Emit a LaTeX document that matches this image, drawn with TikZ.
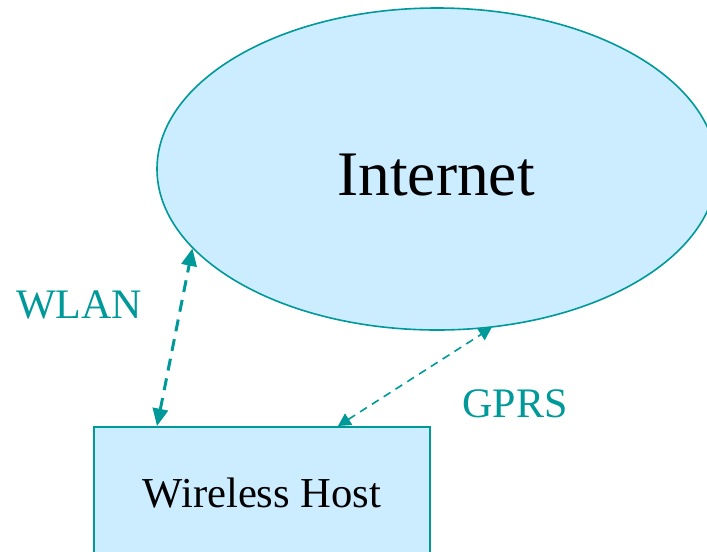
\documentclass[tikz,border=0pt]{standalone}
\usepackage{fontspec}
\setmainfont{Liberation Serif}
\usetikzlibrary{arrows.meta,calc,shapes.geometric}
\definecolor{linkteal}{RGB}{0,153,153}
\definecolor{skyfill}{RGB}{204,236,255}
\tikzset{
  cloud shape/.style={ellipse, draw=linkteal, fill=skyfill, line width=1.2pt, inner sep=0pt},
  box shape/.style={rectangle, draw=linkteal, fill=skyfill, line width=1.5pt, inner sep=0pt, anchor=north west},
  link label/.style={text=linkteal, font=\fontsize{31.5pt}{38pt}\selectfont, anchor=base, inner sep=0pt},
  wlan link/.style={linkteal, line width=2.25pt, dash pattern=on 9pt off 6pt,
    {Triangle[length=13pt,width=11.5pt]}-{Triangle[length=13pt,width=11.5pt]}},
  gprs link/.style={linkteal, line width=1.2pt, dash pattern=on 6pt off 4.5pt,
    {Triangle[length=9.5pt,width=10pt]}-{Triangle[length=9.5pt,width=10pt]}}
}
\begin{document}
\begin{tikzpicture}[x=0.75pt,y=-0.75pt]
  \useasboundingbox (0,0) rectangle (707,551);
  \clip (0,0) rectangle (707,551);

  % network cloud and the host box
  \node[cloud shape, minimum width=420pt, minimum height=241.5pt] (internet) at (437,169) {};
  \node[font=\fontsize{47.6pt}{56pt}\selectfont, anchor=base, inner sep=0pt] (inetlabel) at (436,195) {Internet};

  \node[box shape, minimum width=252pt, minimum height=150pt] (host) at (93,426) {};
  \node[font=\fontsize{32pt}{38pt}\selectfont, anchor=base, inner sep=0pt] (hostlabel) at (262,507) {Wireless Host};

  % attachment points on the host's top edge
  \coordinate (wlanfoot) at ([xshift=48pt]host.north west);
  \coordinate (gprsfoot) at ([xshift=183.75pt]host.north west);

  % links
  \draw[wlan link] (wlanfoot) -- (internet.198);
  \draw[gprs link] (gprsfoot) -- (internet.-71);

  \node[link label] (wlanlabel) at (79,318) {WLAN};
  \node[link label] (gprslabel) at (515,417) {GPRS};
\end{tikzpicture}
\end{document}
